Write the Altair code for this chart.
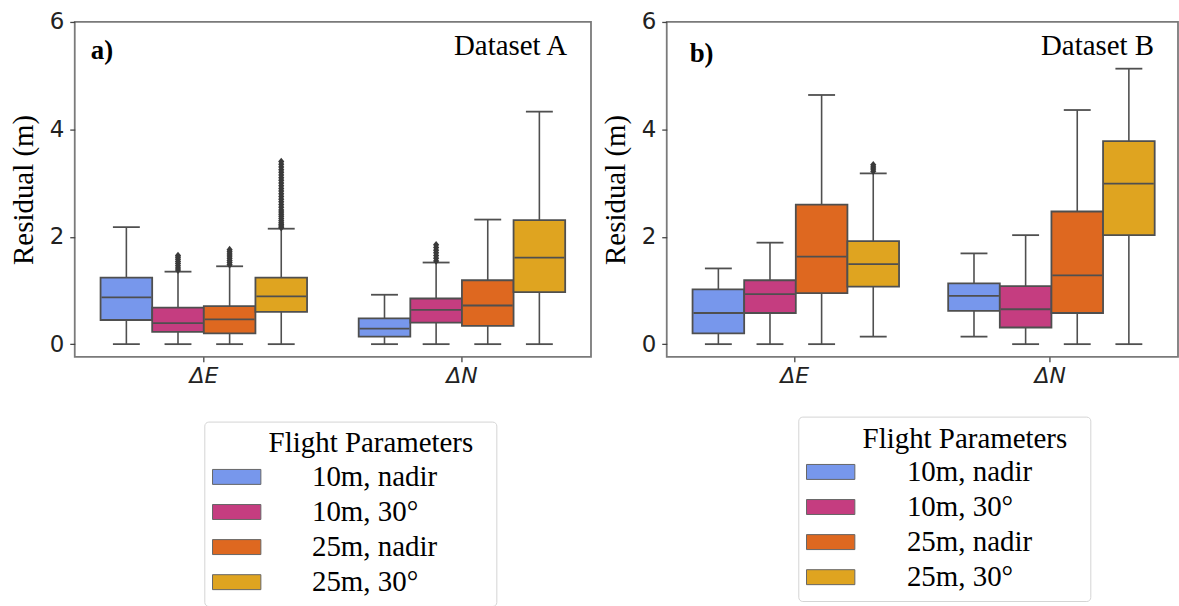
import altair as alt
import pandas as pd

components = ["ΔE", "ΔN"]
params = ["10m, nadir", "10m, 30°", "25m, nadir", "25m, 30°"]
colors = ["#7797EC", "#C53D80", "#DE6820", "#DFA420"]

# Dataset A (order of params)
A_E_low = [0.0, 0.0, 0.0, 0.0]
A_E_q1 = [0.45, 0.23, 0.20, 0.60]
A_E_med = [0.87, 0.39, 0.46, 0.89]
A_E_q3 = [1.24, 0.68, 0.71, 1.24]
A_E_high = [2.18, 1.35, 1.45, 2.15]

A_N_low = [0.0, 0.0, 0.0, 0.0]
A_N_q1 = [0.14, 0.40, 0.34, 0.97]
A_N_med = [0.29, 0.64, 0.72, 1.61]
A_N_q3 = [0.48, 0.85, 1.19, 2.31]
A_N_high = [0.92, 1.52, 2.32, 4.33]

# Dataset B
B_E_low = [0.0, 0.0, 0.0, 0.14]
B_E_q1 = [0.20, 0.58, 0.95, 1.07]
B_E_med = [0.58, 0.93, 1.63, 1.49]
B_E_q3 = [1.02, 1.19, 2.60, 1.92]
B_E_high = [1.41, 1.89, 4.64, 3.18]

B_N_low = [0.14, 0.0, 0.0, 0.0]
B_N_q1 = [0.62, 0.31, 0.58, 2.03]
B_N_med = [0.90, 0.65, 1.28, 2.99]
B_N_q3 = [1.13, 1.08, 2.47, 3.78]
B_N_high = [1.69, 2.03, 4.36, 5.13]

# outliers
A_out_E_10m30 = [1.38, 1.42, 1.46, 1.50, 1.54, 1.58, 1.62, 1.65]
A_out_E_25nad = [1.48, 1.52, 1.56, 1.60, 1.64, 1.68, 1.72, 1.76]
A_out_E_25m30 = [2.17, 2.20, 2.23, 2.26, 2.30, 2.34, 2.38, 2.42, 2.46, 2.50,
                 2.55, 2.60, 2.65, 2.70, 2.75, 2.80, 2.85, 2.90, 2.95, 3.00,
                 3.05, 3.10, 3.15, 3.20, 3.25, 3.30, 3.35, 3.40]
A_out_N_10m30 = [1.55, 1.60, 1.65, 1.70, 1.75, 1.80, 1.85]
B_out_E_25m30 = [3.22, 3.26, 3.30, 3.34]

LINE = "#4f4f4f"
SERIF = "Liberation Serif"
SANS = "DejaVu Sans"
ZW = "\u200b"
LEGEND_TITLE = ZW + "\u2002" * 3 + "\u00a0" + "\u2009" + "Flight Parameters" + "\u2002" + ZW


def stats_df(E, N):
    rows = []
    for comp, st in zip(components, [E, N]):
        low, q1, med, q3, high = st
        for i, p in enumerate(params):
            rows.append(dict(component=comp, param=p, low=low[i], q1=q1[i],
                             med=med[i], q3=q3[i], high=high[i]))
    return pd.DataFrame(rows)


def out_df(groups):
    rows = []
    for comp, p, vals in groups:
        for v in vals:
            rows.append(dict(component=comp, param=p, value=v))
    return pd.DataFrame(rows)


dfA = stats_df((A_E_low, A_E_q1, A_E_med, A_E_q3, A_E_high),
               (A_N_low, A_N_q1, A_N_med, A_N_q3, A_N_high))
dfB = stats_df((B_E_low, B_E_q1, B_E_med, B_E_q3, B_E_high),
               (B_N_low, B_N_q1, B_N_med, B_N_q3, B_N_high))
outA = out_df([("ΔE", params[1], A_out_E_10m30), ("ΔE", params[2], A_out_E_25nad),
               ("ΔE", params[3], A_out_E_25m30), ("ΔN", params[1], A_out_N_10m30)])
outB = out_df([("ΔE", params[3], B_out_E_25m30)])


def panel(df, out, tag, dname, width, lx, ly, label_offset, tag_x, tag_y):
    x = alt.X("component:N", sort=components,
              scale=alt.Scale(domain=components, paddingInner=0, paddingOuter=0),
              axis=alt.Axis(title=None, labelAngle=0, labelFont=SANS, labelFontSize=22,
                            labelFontStyle="italic", labelColor="#222", tickColor="#444",
                            tickSize=5, tickWidth=1.3, labelPadding=4, domain=False))
    xo = alt.XOffset("param:N", sort=params,
                     scale=alt.Scale(domain=params, paddingInner=0, paddingOuter=0.5))
    ysc = alt.Scale(domain=[-0.236, 6], nice=False, zero=False)
    yax = alt.Axis(title="Residual (m)", values=[0, 2, 4, 6], format="d", grid=False,
                   domain=False, labelFont=SANS, labelFontSize=23, labelColor="#222",
                   tickColor="#444", tickSize=5, tickWidth=1.3, labelPadding=6,
                   titleFont=SERIF, titleFontSize=29, titleFontWeight="normal",
                   titleColor="black", titlePadding=11)
    color = alt.Color("param:N", sort=params,
                      scale=alt.Scale(domain=params, range=colors),
                      legend=alt.Legend(
                          title=LEGEND_TITLE,
                          orient="none", legendX=lx, legendY=ly,
                          symbolType="M-4.85,-1.5H4.85V1.5H-4.85Z", symbolSize=100,
                          symbolStrokeColor="#666", symbolStrokeWidth=1,
                          symbolOpacity=1, symbolOffset=10, labelOffset=label_offset,
                          rowPadding=5.2, titlePadding=4, titleAnchor="start",
                          titleFont=SERIF, titleFontSize=29, titleFontWeight="normal",
                          titleColor="black", titleLimit=500,
                          labelFont=SERIF, labelFontSize=29, labelColor="black",
                          labelLimit=400, strokeColor="#d4d4d4", fillColor="white",
                          cornerRadius=4, padding=8))
    base = alt.Chart(df)
    whisk = base.mark_rule(color=LINE, strokeWidth=1.6).encode(
        x=x, xOffset=xo, y=alt.Y("low:Q", scale=ysc, axis=yax), y2="high:Q")
    cap_lo = base.mark_tick(size=27, thickness=1.8, color=LINE, opacity=1).encode(
        x=x, xOffset=xo, y=alt.Y("low:Q", scale=ysc))
    cap_hi = base.mark_tick(size=27, thickness=1.8, color=LINE, opacity=1).encode(
        x=x, xOffset=xo, y=alt.Y("high:Q", scale=ysc))
    box = base.mark_bar(stroke=LINE, strokeWidth=1.8, opacity=1).encode(
        x=x, xOffset=xo, y=alt.Y("q1:Q", scale=ysc), y2="q3:Q", color=color)
    med = base.mark_tick(size=50, thickness=1.8, color=LINE, opacity=1).encode(
        x=x, xOffset=xo, y=alt.Y("med:Q", scale=ysc))
    pts = alt.Chart(out).mark_point(shape="M0,-1L0.8,0L0,1L-0.8,0Z", filled=True,
                                    size=60, color="#3a3a3a", opacity=1).encode(
        x=x, xOffset=xo, y=alt.Y("value:Q", scale=ysc))
    t1 = alt.Chart(pd.DataFrame({"t": [tag]})).mark_text(
        font=SERIF, fontSize=27, fontWeight="bold", align="left", baseline="alphabetic",
        color="black").encode(text="t:N", x=alt.value(tag_x), y=alt.value(tag_y))
    t2 = alt.Chart(pd.DataFrame({"t": [dname]})).mark_text(
        font=SERIF, fontSize=29, align="right", baseline="alphabetic",
        color="black").encode(text="t:N", x=alt.value(width - 24), y=alt.value(33))
    return alt.layer(whisk, cap_lo, cap_hi, box, med, pts, t1, t2).properties(
        width=width, height=336,
        view=alt.ViewBackground(stroke="#7a7a7a", strokeWidth=1.8, fill="white"))


pa = panel(dfA, outA, "a)", "Dataset A", 518, 130, 401, 61, 16, 37)
pb = panel(dfB, outB, "b)", "Dataset B", 513, 132, 396, 62, 23, 40)

chart = alt.hconcat(pa, pb, spacing=8).resolve_scale(color="independent").resolve_legend(
    color="independent").properties(
    padding={"left": 8, "top": 9, "right": 0, "bottom": 0},
    background="white")

chart.save("out.html", embed_options={"renderer": "svg", "actions": False})
